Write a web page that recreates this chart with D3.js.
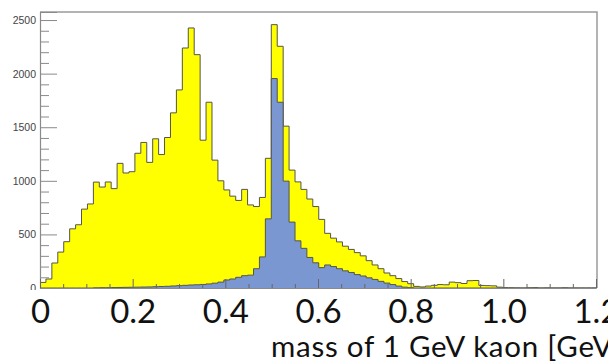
<!DOCTYPE html>
<html>
<head>
<meta charset="utf-8">
<script src="https://cdn.jsdelivr.net/npm/d3@7"></script>
<style>
  html, body { margin: 0; padding: 0; background: #fff; overflow: hidden; }
  svg { display: block; }
</style>
</head>
<body>
<svg id="chart" width="608" height="361"></svg>
<script>
// Invariant-mass histogram of reconstructed 1 GeV kaons:
// all candidates (yellow) with the correctly paired ones overlaid (blue).
const binWidth = 0.0128;   // GeV per bin, first bin starts at 0

const allCandidates = [
  52, 84, 233, 335, 432, 552, 590, 736, 784, 988,
  942, 989, 927, 1163, 1073, 1085, 1257, 1358, 1172, 1392,
  1245, 1404, 1634, 1848, 2239, 2426, 2177, 1379, 1733, 1193,
  1000, 915, 857, 817, 920, 775, 760, 845, 1210, 2457,
  2255, 1510, 1100, 990, 920, 830, 760, 640, 510, 465,
  430, 390, 360, 330, 300, 255, 215, 180, 140, 115,
  88, 60, 40, 15, 10, 18, 25, 32, 30, 55,
  50, 42, 68, 70, 24, 22, 20, 8, 3, 2,
  1, 0, 2, 3, 0, 1, 0, 0, 2, 0,
  0, 0, 0, 0
];

const truePairs = [
  0, 0, 0, 0, 0, 0, 0, 0, 0, 2,
  3, 3, 4, 5, 6, 7, 8, 9, 10, 12,
  14, 16, 19, 22, 25, 28, 30, 33, 38, 45,
  55, 75, 84, 100, 115, 120, 180, 290, 645, 1954,
  1733, 997, 615, 440, 370, 285, 235, 190, 215, 200,
  180, 160, 145, 125, 112, 95, 80, 62, 46, 32,
  18, 8, 3, 0, 0, 0, 0, 0, 0, 0,
  0, 0, 0, 0, 0, 0, 0, 0, 0, 0,
  0, 0, 0, 0, 0, 0, 0, 0, 0, 0,
  0, 0, 0, 0
];

const xTickLabels = ["0", "0.2", "0.4", "0.6", "0.8", "1.0", "1.2"];
const xTickValues = [0, 0.2, 0.4, 0.6, 0.8, 1.0, 1.2];
const yTickValues = [0, 500, 1000, 1500, 2000, 2500];
const xTitle = "mass of 1 GeV kaon [GeV]";

const svg = d3.select("#chart");
const frame = { left: 40, right: 596, top: 12, bottom: 288 };

const x = d3.scaleLinear().domain([0, 1.2]).range([frame.left, frame.right]);
const y = d3.scaleLinear().domain([0, 2575]).range([frame.bottom, frame.top]);

svg.append("defs").append("clipPath").attr("id", "plotArea")
  .append("rect")
  .attr("x", frame.left).attr("y", frame.top - 2)
  .attr("width", frame.right - frame.left).attr("height", frame.bottom - frame.top + 2);

// Turn a list of bin contents into step points (one per bin edge).
function stepPoints(counts) {
  const pts = counts.map((v, i) => ({ e: i * binWidth, v }));
  pts.push({ e: counts.length * binWidth, v: counts[counts.length - 1] });
  return pts;
}

const area = d3.area()
  .curve(d3.curveStepAfter)
  .x(d => x(d.e)).y0(y(0)).y1(d => y(d.v));

const outline = d3.line()
  .curve(d3.curveStepAfter)
  .x(d => x(d.e)).y(d => y(d.v));

const plot = svg.append("g").attr("clip-path", "url(#plotArea)");

function drawHist(counts, fill) {
  const pts = stepPoints(counts);
  plot.append("path").datum(pts)
    .attr("d", area)
    .attr("fill", fill);
  // close the outline down to zero on both ends, as a step histogram
  const closed = [{ e: 0, v: 0 }, ...pts];
  plot.append("path").datum(closed)
    .attr("d", d => outline(d) + "V" + y(0))
    .attr("fill", "none")
    .attr("stroke", "#55554a")
    .attr("stroke-width", 1);
}

drawHist(allCandidates, "#ffff00");
drawHist(truePairs, "#7a97d2");

// frame: top and right edges
svg.append("path")
  .attr("d", `M${frame.left},${frame.top}H${frame.right + 1}V${frame.bottom}`)
  .attr("fill", "none").attr("stroke", "#9a9a9a").attr("stroke-width", 1.5);

// y axis with inward ticks
const yMinor = d3.range(0, 2576, 100).filter(v => v % 500 !== 0);
const yAxisMinor = d3.axisLeft(y).tickValues(yMinor).tickSize(-9).tickFormat("");
const yAxisMajor = d3.axisLeft(y).tickValues(yTickValues).tickSize(-17).tickPadding(4)
  .tickFormat(d3.format("d"));

svg.append("g").attr("transform", `translate(${frame.left},0)`).call(yAxisMinor)
  .call(g => g.select(".domain").remove())
  .selectAll("line").attr("stroke", "#8a8a8a");

const yg = svg.append("g").attr("transform", `translate(${frame.left},0)`).call(yAxisMajor);
yg.select(".domain").attr("stroke", "#8a8a8a").attr("stroke-width", 1.2);
yg.selectAll("line").attr("stroke", "#8a8a8a");
yg.selectAll("text")
  .attr("font-family", "'Liberation Sans', Arial, sans-serif")
  .attr("font-size", 10.5).attr("fill", "#444");

// x axis ticks pointing up into the plot
const xMinor = d3.range(0, 1.2001, 0.05).filter(v => Math.abs(v / 0.2 - Math.round(v / 0.2)) > 1e-6);
svg.append("g").attr("transform", `translate(0,${frame.bottom})`)
  .call(d3.axisBottom(x).tickValues(xMinor).tickSize(-4).tickFormat(""))
  .call(g => g.select(".domain").remove())
  .selectAll("line").attr("stroke", "#666");
svg.append("g").attr("transform", `translate(0,${frame.bottom})`)
  .call(d3.axisBottom(x).tickValues(xTickValues).tickSize(-9).tickFormat(""))
  .call(g => g.select(".domain").attr("stroke", "#8a8a8a"))
  .selectAll("line").attr("stroke", "#666");

// white band below the frame carrying the large labels
svg.append("rect").attr("x", 0).attr("y", 290).attr("width", 608).attr("height", 71).attr("fill", "#fff");

const xl = svg.append("g").attr("transform", "translate(0,291)")
  .call(d3.axisBottom(x).tickValues(xTickValues).tickSize(0).tickPadding(0)
    .tickFormat((d, i) => xTickLabels[i]));
xl.select(".domain").remove();
xl.selectAll("text")
  .attr("font-family", "Lato, 'Open Sans', sans-serif")
  .attr("font-size", 33).attr("fill", "#111")
  .attr("dy", null).attr("y", 32);

svg.append("text")
  .attr("x", 271).attr("y", 357)
  .attr("font-family", "Lato, 'Open Sans', sans-serif")
  .attr("font-size", 29.5).attr("letter-spacing", 0.75).attr("fill", "#111")
  .text(xTitle);
</script>
</body>
</html>
